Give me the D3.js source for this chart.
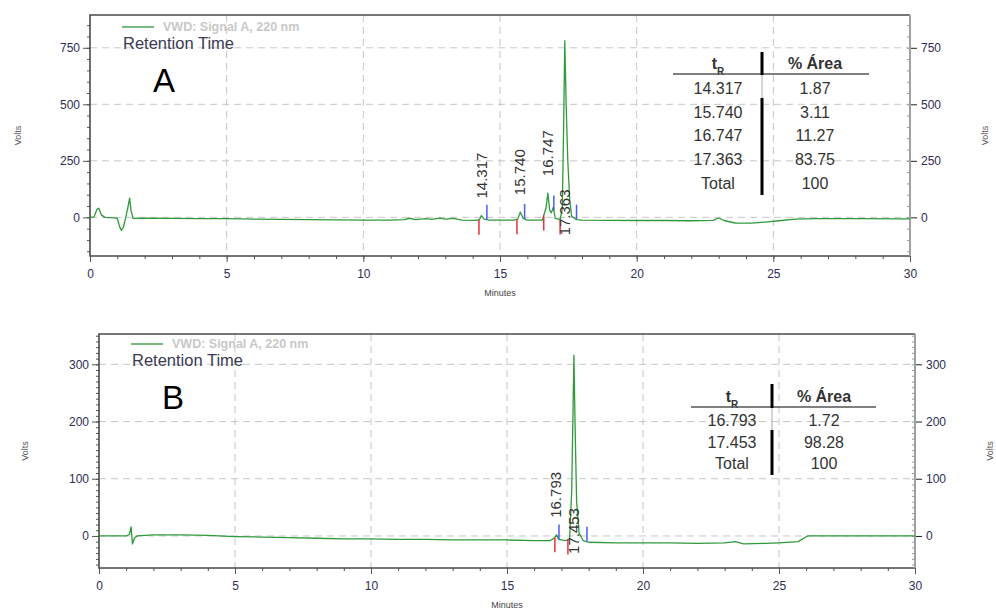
<!DOCTYPE html>
<html>
<head>
<meta charset="utf-8">
<script src="https://cdn.jsdelivr.net/npm/d3@7"></script>
<style>
body { margin:0; background:#fff; }
svg { display:block; font-family: "Liberation Sans", Arial, sans-serif; }
</style>
</head>
<body>
<div id="chart"></div>
<script>
// signal traces: [minutes, volts]
var signalA = [[0,0],[0.15,2],[0.25,35],[0.32,40],[0.42,10],[0.55,0],[0.9,-2],[1.0,-5],[1.08,-40],[1.15,-58],[1.22,-45],[1.3,-5],[1.38,40],[1.45,85],[1.5,30],[1.58,-5],
  [2,-4],[3,-5],[4,-6],[5,-6],[6,-8],[7,-9],[8,-10],[9,-11],[10,-12],[11,-12],[11.5,-10],[11.7,-4],[11.9,-10],[12.3,-6],[12.5,-9],[12.8,-3],[13,-8],[13.3,-5],[13.6,-12],
  [14.1,-13],[14.25,-10],[14.32,8],[14.42,-8],[14.6,-12],[15.5,-12],[15.65,-8],[15.74,23],[15.85,-5],[16.0,-12],[16.55,-12],[16.68,40],[16.75,107],[16.82,30],[16.88,20],[16.95,45],[17.02,-5],
  [17.2,-10],[17.28,40],[17.33,420],[17.37,781],[17.42,500],[17.48,250],[17.55,80],[17.62,5],[17.8,-10],[18,-12],[19,-13],[20,-14],[21,-14],[22,-15],[22.8,-13],[23.0,-3],[23.2,-14],
  [23.6,-25],[24.2,-26],[24.8,-20],[25.2,-15],[25.8,-8],[26.5,-6],[28,-6],[30,-7]];
var signalB = [[0,0],[1.0,0],[1.12,3],[1.18,16],[1.23,-14],[1.3,-4],[1.4,0],[2,2],[3,2],[4,1],[5,-1],[6,-2],[7,-3],[8,-4],[9,-5],[10,-5],[11,-6],[12,-6],[13,-7],[14,-7],[15,-7],[16,-8],
  [16.6,-8],[16.75,-3],[16.82,2],[16.9,-6],[17.15,-8],[17.3,-5],[17.38,80],[17.46,316],[17.5,200],[17.56,60],[17.65,5],[17.8,-8],[18,-11],[19,-12],[20,-12],[21,-12],[22,-13],[23,-12],
  [23.4,-10],[23.7,-14],[24.5,-13],[25,-12],[25.7,-10],[26.05,0],[27,0],[30,0]];

// integrated peaks
var peakTimesA = [14.317, 15.740, 16.747, 17.363];
var peakHeightsA = [8, 23, 107, 781];
var peakStartA = [14.23, 15.62, 16.6, 17.2];
var peakEndA = [14.52, 15.9, 16.97, 17.8];
var peakTimesB = [16.793, 17.453];
var peakHeightsB = [2, 316];
var peakStartB = [16.76, 17.24];
var peakEndB = [16.91, 17.94];

// tables
var tableA_tR = ["14.317", "15.740", "16.747", "17.363", "Total"];
var tableA_area = ["1.87", "3.11", "11.27", "83.75", "100"];
var tableB_tR = ["16.793", "17.453", "Total"];
var tableB_area = ["1.72", "98.28", "100"];

var xTicks = [0, 5, 10, 15, 20, 25, 30];
var yTicksA = [0, 250, 500, 750];
var yTicksB = [0, 100, 200, 300];

var width = 996, height = 613;
var svg = d3.select('#chart').append('svg')
    .attr('width', width)
    .attr('height', height);
svg.append('rect').attr('width', width).attr('height', height).attr('fill', '#fff');

function valueAt(sig, t) {
  var i = d3.bisector(function(d){ return d[0]; }).left(sig, t);
  if (i <= 0) return sig[0][1];
  var a = sig[i-1], b = sig[i];
  return a[1] + (b[1]-a[1]) * (t - a[0]) / (b[0] - a[0]);
}

function drawPanel(p) {
  var x = d3.scaleLinear().domain([0, 30]).range([p.left, p.right]);
  var y = d3.scaleLinear().domain(p.yDomain).range([p.bottom, p.top]);
  var g = svg.append('g');

  // grid
  g.selectAll('.vg').data(xTicks.slice(1, -1)).enter().append('line')
    .attr('x1', function(d){ return x(d); }).attr('x2', function(d){ return x(d); })
    .attr('y1', p.top).attr('y2', p.bottom)
    .attr('stroke', '#c6c6c6').attr('stroke-dasharray', '7,5');
  g.selectAll('.hg').data(p.yTicks).enter().append('line')
    .attr('x1', p.left).attr('x2', p.right)
    .attr('y1', function(d){ return y(d); }).attr('y2', function(d){ return y(d); })
    .attr('stroke', '#c6c6c6').attr('stroke-dasharray', '7,5');

  // axes
  var minorY = d3.range(Math.ceil(p.yDomain[0] / p.yMinor) * p.yMinor, p.yDomain[1], p.yMinor);
  var minorX = d3.range(0, 31, 1);
  function styleAxis(a) {
    a.select('.domain').remove();
    a.selectAll('line').attr('stroke', '#555');
    a.selectAll('text').attr('fill', '#2d2d55').style('font-size', '12px');
  }
  g.append('g').attr('transform', 'translate(' + p.left + ',0)')
    .call(d3.axisLeft(y).tickValues(minorY).tickSize(3).tickFormat('')).call(styleAxis);
  g.append('g').attr('transform', 'translate(' + p.left + ',0)')
    .call(d3.axisLeft(y).tickValues(p.yTicks).tickSize(7).tickPadding(3)).call(styleAxis);
  g.append('g').attr('transform', 'translate(' + (p.right - 3) + ',0)')
    .call(d3.axisRight(y).tickValues(minorY).tickSize(3).tickFormat('')).call(styleAxis)
    .selectAll('line').attr('stroke', '#999');
  g.append('g').attr('transform', 'translate(' + p.right + ',0)')
    .call(d3.axisRight(y).tickValues(p.yTicks).tickSize(7).tickPadding(4)).call(styleAxis)
    .selectAll('line').attr('stroke', '#222');
  g.append('g').attr('transform', 'translate(0,' + p.bottom + ')')
    .call(d3.axisBottom(x).tickValues(minorX).tickSize(3).tickFormat('')).call(styleAxis);
  g.append('g').attr('transform', 'translate(0,' + p.bottom + ')')
    .call(d3.axisBottom(x).tickValues(xTicks).tickSize(6).tickPadding(7)).call(styleAxis);

  // frame: dark on three sides, lighter on the right
  g.append('path')
    .attr('d', 'M' + p.right + ',' + p.top + 'H' + p.left + 'V' + p.bottom + 'H' + p.right)
    .attr('fill', 'none').attr('stroke', '#4a4a4a').attr('stroke-width', 1.6);
  g.append('line').attr('x1', p.right).attr('x2', p.right).attr('y1', p.top).attr('y2', p.bottom)
    .attr('stroke', '#a0a0a0').attr('stroke-width', 2);

  // axis titles
  g.append('text').attr('x', (p.left + p.right) / 2).attr('y', p.bottom + 40)
    .attr('text-anchor', 'middle').style('font-size', '9px').attr('fill', '#444').text('Minutes');
  [p.voltsL, p.voltsR].forEach(function(vx){
    g.append('text').attr('transform', 'translate(' + vx + ',' + ((p.top + p.bottom) / 2) + ') rotate(-90)')
      .attr('text-anchor', 'middle').attr('dy', '0.35em')
      .style('font-size', '9px').attr('fill', '#555').text('Volts');
  });

  // trace
  var line = d3.line().x(function(d){ return x(d[0]); }).y(function(d){ return y(d[1]); });
  g.append('path').datum(p.signal)
    .attr('d', line).attr('fill', 'none')
    .attr('stroke', '#2f9a3a').attr('stroke-width', 1.3).attr('stroke-linejoin', 'round');

  // peak start/end markers
  p.starts.forEach(function(t){
    var yy = y(valueAt(p.signal, t));
    g.append('line').attr('x1', x(t)).attr('x2', x(t)).attr('y1', yy).attr('y2', yy + 15)
      .attr('stroke', '#e8323a').attr('stroke-width', 1.5);
  });
  p.ends.forEach(function(t){
    var yy = y(valueAt(p.signal, t));
    g.append('line').attr('x1', x(t)).attr('x2', x(t)).attr('y1', yy).attr('y2', yy - 15)
      .attr('stroke', '#4b5cf0').attr('stroke-width', 1.5);
  });

  // peak labels
  p.peaks.forEach(function(t, i){
    var h = p.heights[i];
    var y0 = h > p.tallCut ? y(0) + 18 : y(h) - 17;
    g.append('text')
      .attr('transform', 'translate(' + x(t) + ',' + y0 + ') rotate(-90)')
      .attr('dy', '0.35em').style('font-size', '15px').attr('fill', '#333')
      .text(t.toFixed(3));
  });

  // legend
  g.append('line').attr('x1', p.left + 32).attr('x2', p.left + 64)
    .attr('y1', p.top + p.legDy).attr('y2', p.top + p.legDy)
    .attr('stroke', '#2f9a3a').attr('stroke-width', 1.3);
  g.append('text').attr('x', p.left + 73).attr('y', p.top + p.legDy).attr('dy', '0.35em')
    .style('font-size', '12.5px').style('font-weight', 'bold').attr('fill', '#c8c8c8')
    .text('VWD: Signal A, 220 nm');
  g.append('text').attr('x', p.left + 33).attr('y', p.top + p.legDy + 16).attr('dy', '0.35em')
    .style('font-size', '16.5px').attr('fill', '#3a3a55').text('Retention Time');
  g.append('text').attr('x', p.left + 63).attr('y', p.top + p.letterDy)
    .style('font-size', '33px').attr('fill', '#000').text(p.letter);

  // table
  var tb = p.table;
  var hdr = g.append('text').attr('x', tb.c1).attr('y', tb.head).attr('text-anchor', 'middle')
    .style('font-size', '16px').style('font-weight', 'bold').attr('fill', '#333');
  hdr.append('tspan').text('t');
  hdr.append('tspan').attr('baseline-shift', 'sub').style('font-size', '10px').text('R');
  g.append('text').attr('x', tb.c2).attr('y', tb.head).attr('text-anchor', 'middle')
    .style('font-size', '16px').style('font-weight', 'bold').attr('fill', '#333').text('% Área');
  g.append('line').attr('x1', tb.x1).attr('x2', tb.x2).attr('y1', tb.rule).attr('y2', tb.rule)
    .attr('stroke', '#555').attr('stroke-width', 1.5);
  p.colA.forEach(function(v, i){
    g.append('text').attr('x', tb.c1).attr('y', tb.row0 + i * tb.step).attr('text-anchor', 'middle')
      .style('font-size', '16px').attr('fill', '#333').text(v);
    g.append('text').attr('x', tb.c2).attr('y', tb.row0 + i * tb.step).attr('text-anchor', 'middle')
      .style('font-size', '16px').attr('fill', '#333').text(p.colB[i]);
  });
  g.append('line').attr('x1', tb.bar).attr('x2', tb.bar).attr('y1', tb.rule).attr('y2', tb.gap)
    .attr('stroke', '#aaa').attr('stroke-width', 1);
  [[tb.barTop, tb.rule + 1], [tb.gap, tb.barEnd]].forEach(function(s){
    g.append('line').attr('x1', tb.bar).attr('x2', tb.bar).attr('y1', s[0]).attr('y2', s[1])
      .attr('stroke', '#000').attr('stroke-width', 3);
  });
}

drawPanel({
  left: 90, right: 910, top: 15, bottom: 256, yDomain: [-171, 895], yTicks: yTicksA, yMinor: 50,
  signal: signalA, peaks: peakTimesA, heights: peakHeightsA, starts: peakStartA, ends: peakEndA, tallCut: 300,
  voltsL: 18, voltsR: 985, legDy: 12, letterDy: 77, letter: 'A',
  colA: tableA_tR, colB: tableA_area,
  table: {c1: 718, c2: 815, head: 69, rule: 74, x1: 673, x2: 869, row0: 94, step: 23.7, bar: 762, barTop: 52, gap: 98, barEnd: 195}
});
drawPanel({
  left: 99, right: 915, top: 334, bottom: 568, yDomain: [-56, 353], yTicks: yTicksB, yMinor: 10,
  signal: signalB, peaks: peakTimesB, heights: peakHeightsB, starts: peakStartB, ends: peakEndB, tallCut: 150,
  voltsL: 25, voltsR: 990, legDy: 10, letterDy: 75, letter: 'B',
  colA: tableB_tR, colB: tableB_area,
  table: {c1: 732, c2: 824, head: 402, rule: 407, x1: 691, x2: 876, row0: 426, step: 21.5, bar: 772, barTop: 384, gap: 430, barEnd: 475}
});
</script>
</body>
</html>
